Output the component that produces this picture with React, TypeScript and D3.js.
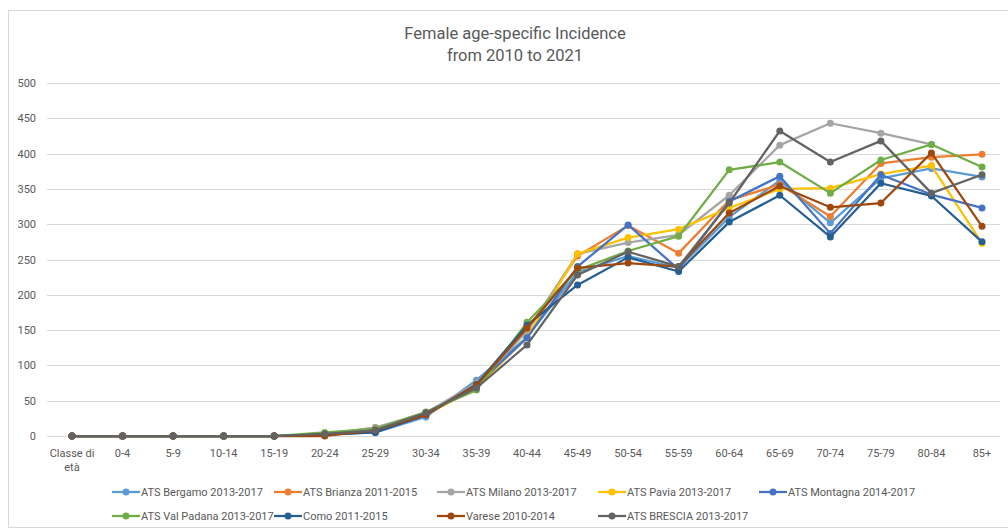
import React, { useRef, useEffect } from "react";
import * as d3 from "d3";

const W = 1008;
const H = 529;

const categories = ["Classe di età", "0-4", "5-9", "10-14", "15-19", "20-24", "25-29", "30-34", "35-39", "40-44", "45-49", "50-54", "55-59", "60-64", "65-69", "70-74", "75-79", "80-84", "85+"];
const yTicks = [0, 50, 100, 150, 200, 250, 300, 350, 400, 450, 500];

const seriesNames = ["ATS Bergamo 2013-2017", "ATS Brianza 2011-2015", "ATS Milano 2013-2017", "ATS Pavia 2013-2017", "ATS Montagna 2014-2017", "ATS Val Padana 2013-2017", "Como 2011-2015", "Varese 2010-2014", "ATS BRESCIA 2013-2017"];
const seriesColors = ["#5B9BD5", "#ED7D31", "#A5A5A5", "#FFC000", "#4472C4", "#70AD47", "#255E91", "#9E480E", "#636363"];

const bergamo = [0, 0, 0, 0, 0, 2, 5, 27, 79, 140, 232, 255, 238, 310, 362, 302, 365, 379, 367];
const brianza = [0, 0, 0, 0, 0, 2, 12, 30, 72, 150, 255, 298, 259, 334, 356, 311, 386, 395, 399];
const milano = [0, 0, 0, 0, 0, 3, 12, 33, 75, 148, 258, 274, 285, 341, 412, 443, 429, 413, null];
const pavia = [0, 0, 0, 0, 0, 2, 8, 30, 68, 140, 258, 281, 293, 323, 350, 351, 371, 383, 273];
const montagna = [0, 0, 0, 0, 0, 2, 6, 30, 72, 139, 240, 299, 236, 332, 368, 287, 370, 342, 323];
const valPadana = [0, 0, 0, 0, 0, 5, 10, 34, 65, 161, 235, 262, 283, 377, 388, 344, 391, 413, 381];
const como = [0, 0, 0, 0, 0, 2, 5, 30, 73, 157, 214, 253, 233, 303, 341, 282, 358, 340, 275];
const varese = [0, 0, 0, 0, 0, 0, 8, 30, 72, 153, 238, 245, 240, 316, 354, 324, 330, 401, 297];
const brescia = [0, 0, 0, 0, 0, 3, 8, 33, 68, 129, 228, 261, 240, 330, 432, 388, 418, 344, 370];

const seriesValues = [bergamo, brianza, milano, pavia, montagna, valPadana, como, varese, brescia];

const FONT = "Roboto, 'Open Sans', sans-serif";
const TXT = "#595959";

const App = () => {
  const ref = useRef<SVGSVGElement>(null);

  useEffect(() => {
    const svg = d3.select(ref.current);
    svg.selectAll("*").remove();

    const x = d3.scalePoint<string>().domain(categories).range([72, 982]);
    const y = d3.scaleLinear().domain([0, 500]).range([436, 83]);

    // chart border
    svg.append("rect")
      .attr("x", 8.5).attr("y", 10.5)
      .attr("width", 1000).attr("height", 517)
      .attr("fill", "#fff").attr("stroke", "#d9d9d9");

    // title
    const title = svg.append("text")
      .attr("text-anchor", "middle")
      .attr("font-family", FONT)
      .attr("font-size", 16.5)
      .attr("fill", TXT);
    title.append("tspan").attr("x", 515).attr("y", 39).text("Female age-specific Incidence");
    title.append("tspan").attr("x", 515).attr("y", 61).text("from 2010 to 2021");

    // gridlines + y labels
    svg.append("g").selectAll("line")
      .data(yTicks)
      .enter()
      .append("line")
      .attr("x1", 47).attr("x2", 1000)
      .attr("y1", d => Math.round(y(d)) + 0.5).attr("y2", d => Math.round(y(d)) + 0.5)
      .attr("stroke", "#d9d9d9").attr("stroke-width", 1);

    svg.append("g").selectAll("text")
      .data(yTicks)
      .enter()
      .append("text")
      .attr("x", 36).attr("y", d => y(d) + 4)
      .attr("text-anchor", "end")
      .attr("font-family", FONT).attr("font-size", 11).attr("fill", TXT)
      .text(d => d);

    // x labels
    const xl = svg.append("g").selectAll("text")
      .data(categories)
      .enter()
      .append("text")
      .attr("text-anchor", "middle")
      .attr("font-family", FONT).attr("font-size", 11).attr("fill", TXT);
    xl.each(function (d) {
      const t = d3.select(this);
      const parts = d === "Classe di età" ? ["Classe di", "età"] : [d];
      parts.forEach((p, i) => {
        t.append("tspan").attr("x", x(d)!).attr("y", 457 + i * 14).text(p);
      });
    });

    // lines
    const line = d3.line<number | null>()
      .defined(d => d !== null)
      .x((d, i) => x(categories[i])!)
      .y(d => y(d as number));

    seriesValues.forEach((vals, si) => {
      const g = svg.append("g");
      g.append("path")
        .datum(vals)
        .attr("d", line)
        .attr("fill", "none")
        .attr("stroke", seriesColors[si])
        .attr("stroke-width", 2.25)
        .attr("stroke-linejoin", "round");
      g.selectAll("circle")
        .data(vals.map((v, i) => ({ v, i })).filter(d => d.v !== null))
        .enter()
        .append("circle")
        .attr("cx", d => x(categories[d.i])!)
        .attr("cy", d => y(d.v as number))
        .attr("r", 3.5)
        .attr("fill", seriesColors[si]);
    });

    // legend
    const legX = [112, 274, 437, 598, 759];
    const legY = [492, 516];
    seriesNames.forEach((name, i) => {
      const lx = legX[i % 5];
      const ly = legY[Math.floor(i / 5)];
      const g = svg.append("g");
      g.append("line")
        .attr("x1", lx).attr("x2", lx + 28)
        .attr("y1", ly).attr("y2", ly)
        .attr("stroke", seriesColors[i]).attr("stroke-width", 2.25);
      g.append("circle").attr("cx", lx + 14).attr("cy", ly).attr("r", 3.5).attr("fill", seriesColors[i]);
      g.append("text")
        .attr("x", lx + 29).attr("y", ly + 4)
        .attr("font-family", FONT).attr("font-size", 11).attr("fill", TXT)
        .text(name);
    });
  }, []);

  return (
    <div style={{ position: "absolute", left: 0, top: 0 }}>
      <svg ref={ref} width={W} height={H}></svg>
    </div>
  );
};

export default App;
